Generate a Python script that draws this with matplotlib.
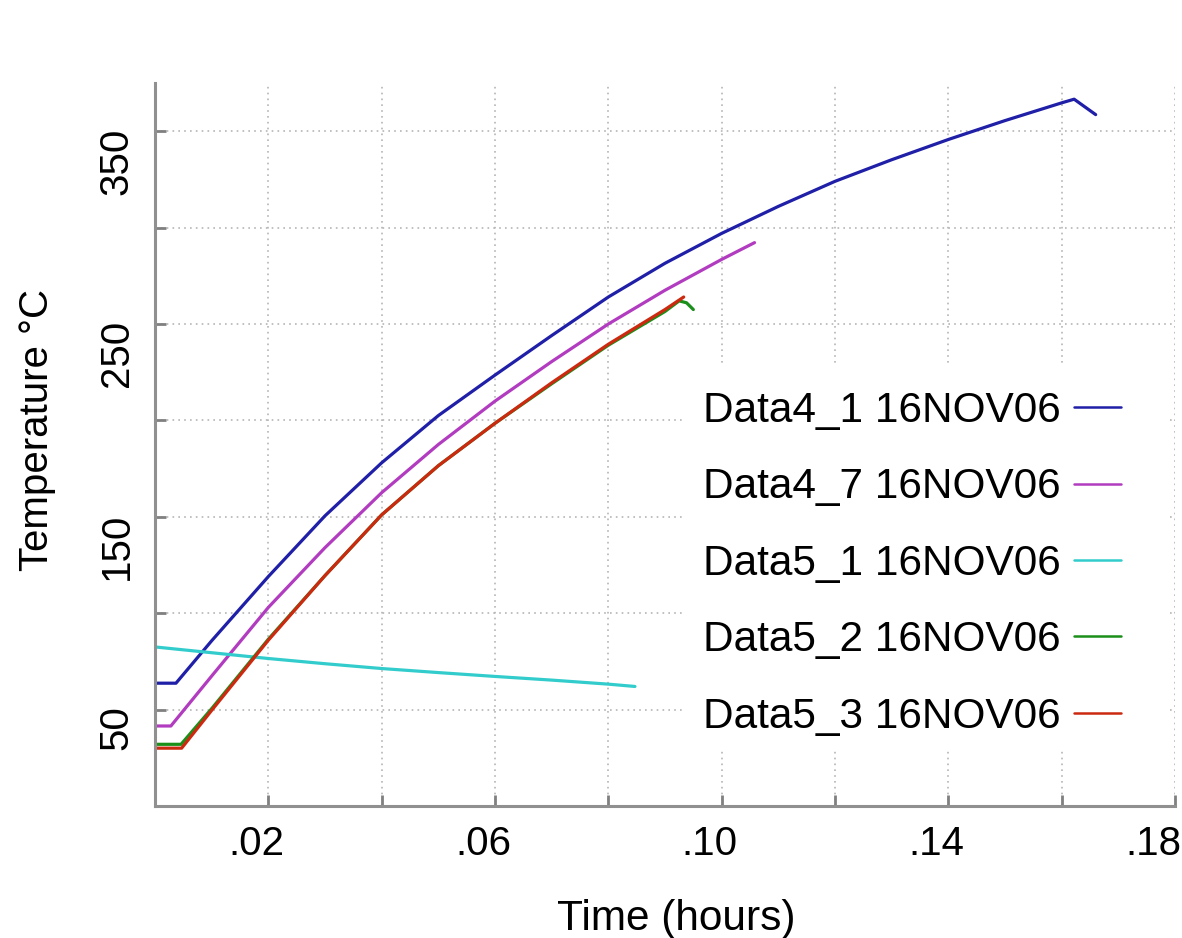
import numpy as np
import matplotlib
matplotlib.use("Agg")
import matplotlib.pyplot as plt
from matplotlib.ticker import MultipleLocator, FuncFormatter
from matplotlib.transforms import ScaledTranslation
from matplotlib.patches import Rectangle

plt.rcParams['font.family'] = ['Liberation Sans', 'DejaVu Sans']

# thermocouple traces, time in hours / temperature in deg C
t_d41 = [0, 0.0037, 0.01, 0.02, 0.03, 0.04, 0.05, 0.06, 0.07, 0.08, 0.09,
         0.10, 0.11, 0.12, 0.13, 0.14, 0.15, 0.16, 0.1622, 0.166]
temp_d41 = [63.7, 63.7, 85.7, 119, 150.5, 178, 202.5, 223.5, 244, 264, 281.5,
            297, 311, 324, 335.2, 345.7, 355.5, 364.7, 366.6, 358.6]

t_d47 = [0, 0.0028, 0.01, 0.02, 0.03, 0.04, 0.05, 0.06, 0.07, 0.08, 0.09,
         0.10, 0.1058]
temp_d47 = [41.5, 41.5, 67.4, 103, 134, 162.5, 187.5, 210, 230.5, 250, 267.5,
            283.5, 292.2]

t_d51 = [0, 0.01, 0.02, 0.03, 0.04, 0.05, 0.06, 0.07, 0.08, 0.0847]
temp_d51 = [82.5, 79.5, 76.5, 73.8, 71.3, 69.2, 67.2, 65.3, 63.2, 62.0]

t_d52 = [0, 0.0046, 0.01, 0.02, 0.03, 0.04, 0.05, 0.06, 0.07, 0.08, 0.09,
         0.0925, 0.0938, 0.095]
temp_d52 = [32, 32, 50.5, 86.5, 119.5, 151, 176.5, 198.5, 219, 239, 256.5,
            262, 261, 257.5]

t_d53 = [0, 0.0047, 0.01, 0.02, 0.03, 0.04, 0.05, 0.06, 0.07, 0.08, 0.09,
         0.0933]
temp_d53 = [30, 30, 49.6, 86, 119.5, 151, 176.5, 198.5, 219.5, 239.5, 257.5,
            264]

labels = ['Data4_1 16NOV06', 'Data4_7 16NOV06', 'Data5_1 16NOV06',
          'Data5_2 16NOV06', 'Data5_3 16NOV06']
colors = ['#1f1fa8', '#b23cc0', '#33cccc', '#1a8f1a', '#cc2a10']

series = [(t_d41, temp_d41), (t_d47, temp_d47), (t_d51, temp_d51),
          (t_d52, temp_d52), (t_d53, temp_d53)]

fig = plt.figure(figsize=(11.82, 9.38), dpi=100)
ax = fig.add_axes([155 / 1182, 1 - 806 / 938, 1020 / 1182, 723 / 938])

for (t, temp), lab, col in zip(series, labels, colors):
    ax.plot(t, temp, color=col, lw=2.3, label=lab,
            solid_capstyle='round', solid_joinstyle='round')

ax.set_xlim(0, 0.18)
ax.set_ylim(0, 375)

ax.xaxis.set_major_locator(MultipleLocator(0.02))
ax.yaxis.set_major_locator(MultipleLocator(50))


def fmt_x(v, pos):
    k = int(round(v / 0.02))
    if k % 2 == 0:
        return ''
    return '.%02d' % int(round(v * 100))


def fmt_y(v, pos):
    k = int(round(v / 50))
    if k % 2 == 0:
        return ''
    return '%d' % int(round(v))


ax.xaxis.set_major_formatter(FuncFormatter(fmt_x))
ax.yaxis.set_major_formatter(FuncFormatter(fmt_y))

ax.set_axisbelow(True)
ax.grid(True, color='#b5b5b5', linestyle=(0, (1, 2.5)), linewidth=1.2)

for side in ['top', 'right']:
    ax.spines[side].set_visible(False)
for side in ['left', 'bottom']:
    ax.spines[side].set_color('#909090')
    ax.spines[side].set_linewidth(2.2)

ax.tick_params(axis='both', direction='in', length=8, width=2,
               color='#808080', labelsize=29)
ax.tick_params(axis='x', pad=13.5)
ax.tick_params(axis='y', pad=14, labelrotation=90)

fig.canvas.draw()
for lab in ax.get_xticklabels():
    dx = -12
    if lab.get_text() == '.18':
        dx = -22
    lab.set_transform(lab.get_transform() +
                      ScaledTranslation(dx / 100, 0, fig.dpi_scale_trans))
shift_y = ScaledTranslation(0, 4 / 100, fig.dpi_scale_trans)
for lab in ax.get_yticklabels():
    lab.set_va('top')
    lab.set_transform(lab.get_transform() + shift_y)

ax.set_xlabel('Time (hours)', fontsize=30.5)
ax.xaxis.set_label_coords(0.511, -0.128)
ax.set_ylabel('Temperature \u00b0C', fontsize=29)
ax.yaxis.set_label_coords(-0.097, 0.52)

# blank panel behind the key
ax.add_patch(Rectangle((0.52, 0.077), 0.475, 0.533, transform=ax.transAxes,
                       facecolor='white', edgecolor='none', zorder=1.5))

leg = ax.legend(loc='upper left', bbox_to_anchor=(0.537, 0.574),
                frameon=False, markerfirst=False, fontsize=30.5,
                handlelength=1.1, handletextpad=0.33, labelspacing=0.86,
                borderpad=0, borderaxespad=0)
for h in leg.get_lines():
    h.set_linewidth(1.8)

fig.savefig('out.png', dpi=100, facecolor='white')
plt.close(fig)
